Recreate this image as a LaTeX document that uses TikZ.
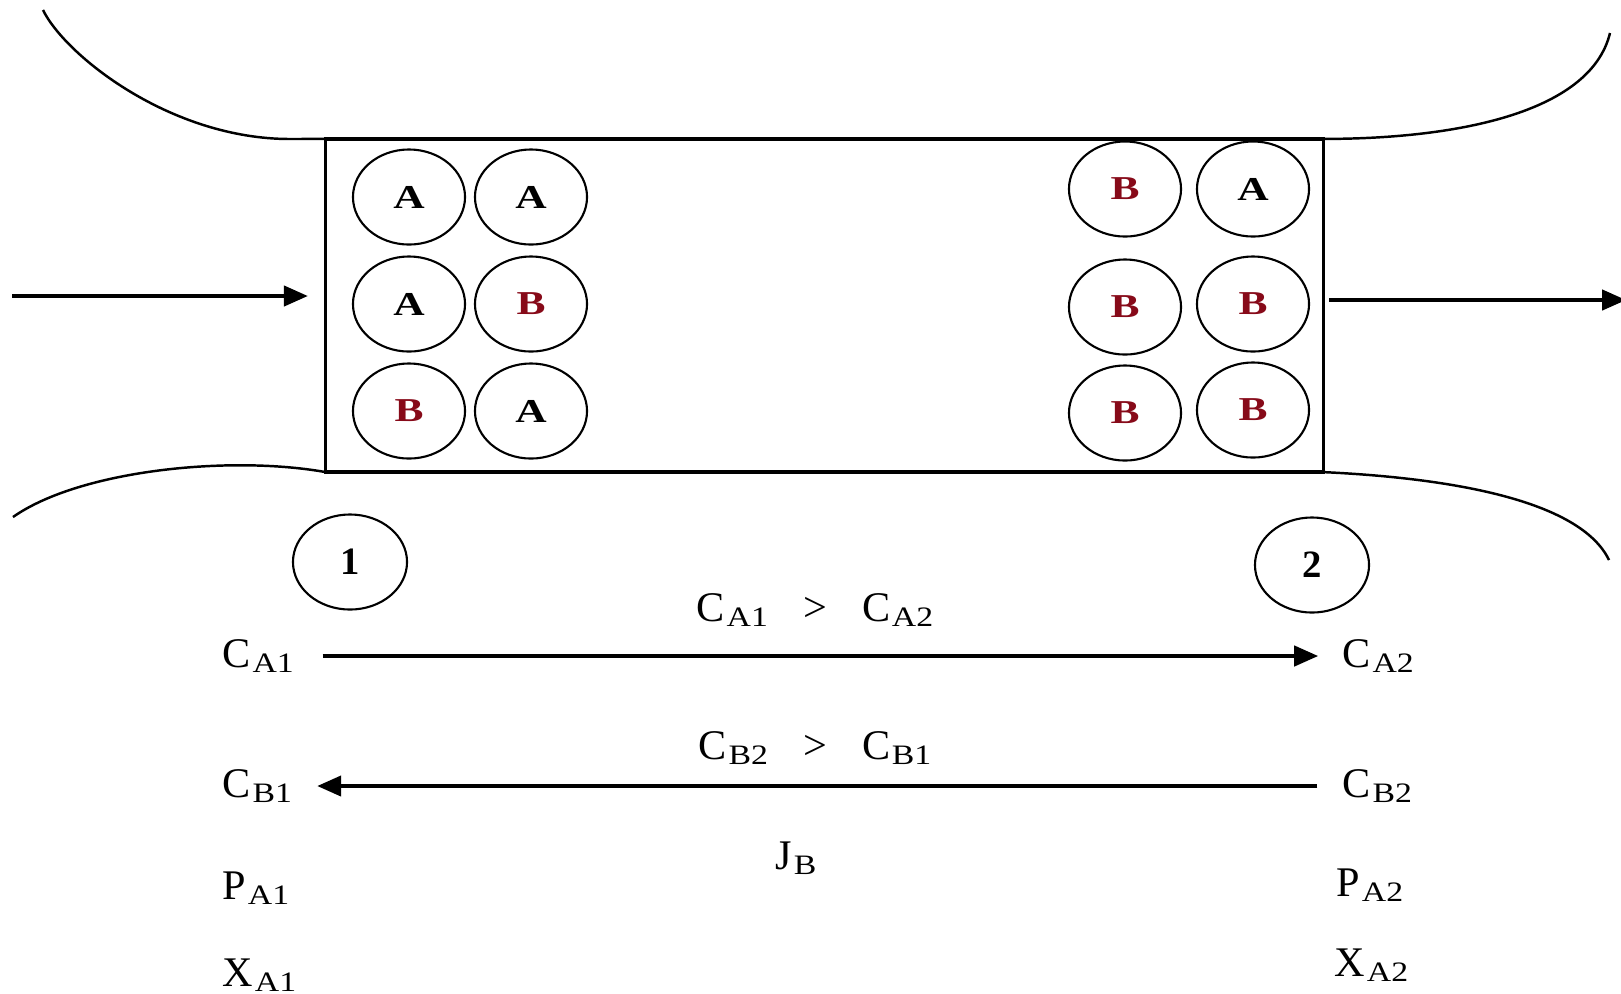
\documentclass[tikz,border=0pt]{standalone}
\usepackage{fontspec}
\setmainfont{Liberation Serif}
\newfontfamily\widefont{Liberation Serif}[FakeStretch=1.3]
\newfontfamily\subfont{Liberation Serif}[FakeStretch=1.2]
\usepackage{tikz}
\usetikzlibrary{shapes.geometric, arrows.meta, positioning, calc}
\definecolor{speciesB}{RGB}{135, 10, 25}

% concentration symbol with its small subscript
\newcommand{\conc}[2]{#1\kern0.5pt\raisebox{-1.5pt}{\subfont\fontsize{8}{8}\selectfont #2}}

\begin{document}
\begin{tikzpicture}[
    x=0.01cm, y=-0.01cm,
    mem/.style={draw, line width=1pt, minimum width=9.97cm, minimum height=3.33cm,
                inner sep=0pt, outer sep=0pt},
    mol/.style={draw, ellipse, line width=0.6pt, minimum width=1.12cm,
                minimum height=0.95cm, inner sep=0pt,
                font=\widefont\bfseries\fontsize{9.5}{10}\selectfont},
    molB/.style={mol, text=speciesB},
    stn/.style={mol, minimum width=1.14cm, minimum height=0.95cm,
                font=\bfseries\fontsize{11}{12}\selectfont},
    lbl/.style={inner sep=0pt, font=\fontsize{12}{14}\selectfont},
    flow/.style={-{Triangle[length=6.8pt,width=5.8pt]}, line width=0.9pt},
    wall/.style={line width=0.7pt}
]
    \useasboundingbox (0,0) rectangle (1621,993);

    % membrane section
    \node[mem] (mem) at (824.5,305.5) {};

    % pipe walls
    \draw[wall] (mem.north west) -- (290,139) .. controls (170,139) and (65,55) .. (43,10);
    \draw[wall] (mem.north east) .. controls (1450,139) and (1590,115) .. (1610,33);
    \draw[wall] (mem.south west) .. controls (230,455) and (80,470) .. (13,517);
    \draw[wall] (mem.south east) .. controls (1450,478) and (1580,500) .. (1609,560);

    % inlet and outlet
    \coordinate (feed) at (12,296);
    \coordinate (drain) at (1626,300);
    \draw[flow, shorten >=5.1pt] (feed) -- (feed -| mem.west);
    \draw[flow, shorten <=1.7pt] (drain -| mem.east) -- (drain);

    % molecules at side 1
    \node[mol]  (l11) at (409,197) {A};
    \node[mol]  (l12) at (531,197) {A};
    \node[mol]  (l21) at (409,304) {A};
    \node[molB] (l22) at (531,304) {B};
    \node[molB] (l31) at (409,411) {B};
    \node[mol]  (l32) at (531,411) {A};

    % molecules at side 2
    \node[molB] (r11) at (1125,189) {B};
    \node[mol]  (r12) at (1253,189) {A};
    \node[molB] (r21) at (1125,307) {B};
    \node[molB] (r22) at (1253,304) {B};
    \node[molB] (r31) at (1125,413) {B};
    \node[molB] (r32) at (1253,410) {B};

    % stations
    \node[stn] (s1) at (350,562) {1};
    \node[stn] (s2) at (1312,565) {2};

    % side 1 values
    \node[lbl, anchor=west] (ca1) at (222,656) {\conc{C}{A1}};
    \node[lbl, anchor=west] (cb1) at (222,786) {\conc{C}{B1}};
    \node[lbl, anchor=west] (pa1) at (222,888) {\conc{P}{A1}};
    \node[lbl, anchor=west] (xa1) at (222,975) {\conc{X}{A1}};

    % side 2 values
    \node[lbl, anchor=west] (ca2) at (1342,656) {\conc{C}{A2}};
    \node[lbl, anchor=west] (cb2) at (1342,786) {\conc{C}{B2}};
    \node[lbl, anchor=west] (pa2) at (1336,885) {\conc{P}{A2}};
    \node[lbl, anchor=west] (xa2) at (1334,965) {\conc{X}{A2}};

    % driving forces
    \node[lbl] (gradA) at (815,610) {\conc{C}{A1}\hspace{10pt}>\hspace{10pt}\conc{C}{A2}};
    \node[lbl] (gradB) at (815,748) {\conc{C}{B2}\hspace{10pt}>\hspace{10pt}\conc{C}{B1}};
    \node[lbl] (jb) at (796,858) {\conc{J}{B}};

    \draw[flow, shorten <=8pt, shorten >=6.8pt] (ca1) -- (ca2);
    \draw[flow, shorten <=7pt, shorten >=7pt] (cb2) -- (cb1);
\end{tikzpicture}
\end{document}
